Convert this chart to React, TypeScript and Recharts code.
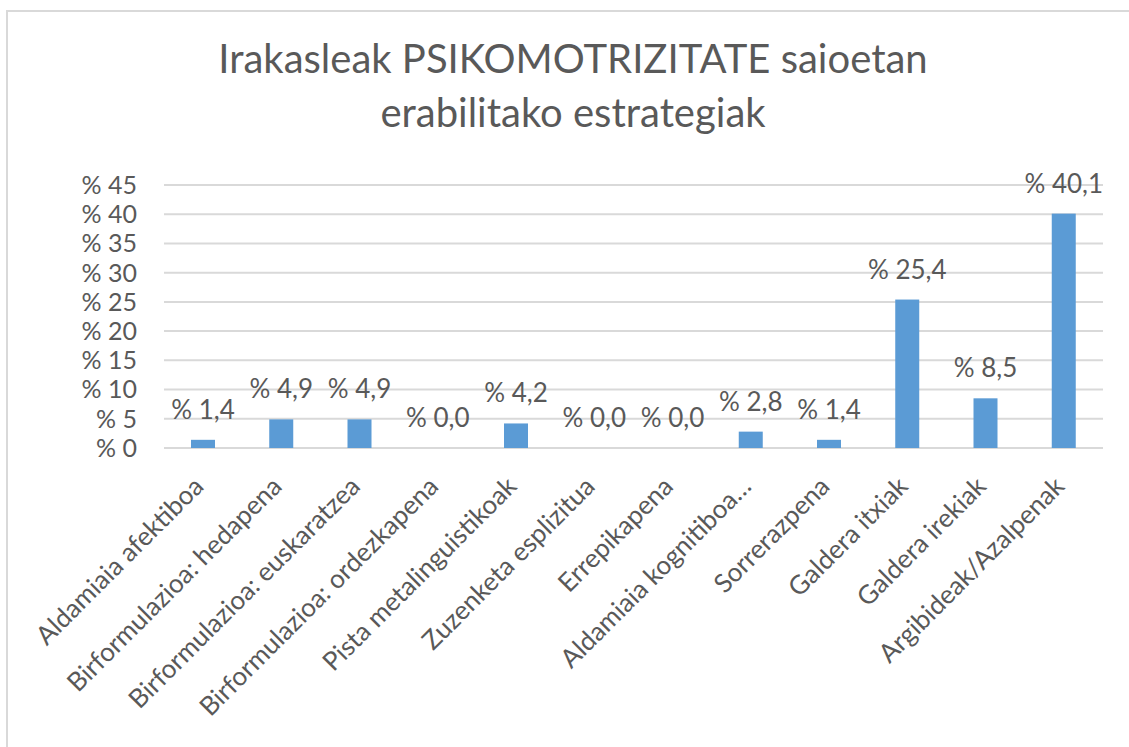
import React from 'react';
import { BarChart, Bar, XAxis, YAxis, CartesianGrid } from 'recharts';

const categories = [
  'Aldamiaia afektiboa',
  'Birformulazioa: hedapena',
  'Birformulazioa: euskaratzea',
  'Birformulazioa: ordezkapena',
  'Pista metalinguistikoak',
  'Zuzenketa esplizitua',
  'Errepikapena',
  'Aldamiaia kognitiboa…',
  'Sorrerazpena',
  'Galdera itxiak',
  'Galdera irekiak',
  'Argibideak/Azalpenak',
];
const percentages = [1.4, 4.9, 4.9, 0.0, 4.2, 0.0, 0.0, 2.8, 1.4, 25.4, 8.5, 40.1];
const yTicks = [0, 5, 10, 15, 20, 25, 30, 35, 40, 45];

const titleLines = ['Irakasleak PSIKOMOTRIZITATE saioetan', 'erabilitako estrategiak'];

const data = categories.map((name, i) => ({ name, value: percentages[i] }));

const FONT = 'Lato, "Open Sans", sans-serif';
const TEXT = '#595959';

const fmt = (v: number) => `% ${v.toFixed(1).replace('.', ',')}`;

const XTick = (props: any) => {
  const { x, payload } = props;
  return (
    <text
      x={0}
      y={0}
      transform={`translate(${x + 2},${488}) rotate(-45)`}
      textAnchor="end"
      fill={TEXT}
      fontSize={26}
      fontFamily={FONT}
    >
      {payload.value}
    </text>
  );
};

const ValueLabel = (props: any) => {
  const { x, y, width, height, value } = props;
  // zero bars get a minimum height of 1px, so measure from the bar bottom
  const top = value > 0 ? y : y + height;
  return (
    <text
      x={x + width / 2}
      y={top - 21}
      textAnchor="middle"
      fill={TEXT}
      fontSize={26}
      fontFamily={FONT}
    >
      {fmt(value)}
    </text>
  );
};

const BarShape = (props: any) => {
  const { x, y, width, height, value } = props;
  if (!(value > 0)) return <g />;
  return <rect x={x} y={y} width={width} height={height} fill="#5B9BD5" />;
};

export default function App() {
  return (
    <div style={{ position: 'absolute', left: 0, top: 0, width: 1129, height: 747, overflow: 'hidden', background: '#fff' }}>
      <div
        style={{
          position: 'absolute',
          left: 6,
          top: 10,
          width: 1200,
          height: 800,
          border: '2px solid #d9d9d9',
        }}
      />
      <div
        style={{
          position: 'absolute',
          left: 0,
          top: 31,
          width: 1146,
          textAlign: 'center',
          fontFamily: FONT,
          fontSize: 40,
          lineHeight: '54px',
          color: TEXT,
        }}
      >
        {titleLines.map((l) => (
          <div key={l}>{l}</div>
        ))}
      </div>
      <div style={{ position: 'absolute', left: 0, top: 0 }}>
        <BarChart width={1129} height={747} data={data} margin={{ top: 185, right: 26, bottom: 0, left: 0 }}>
          <CartesianGrid vertical={false} stroke="#d9d9d9" strokeWidth={2} />
          <XAxis
            dataKey="name"
            axisLine={false}
            tickLine={false}
            interval={0}
            height={299}
            tick={<XTick />}
          />
          <YAxis
            domain={[0, 45]}
            ticks={yTicks}
            interval={0}
            width={164}
            axisLine={false}
            tickLine={false}
            tickMargin={21}
            tickFormatter={(v: number) => `% ${v}`}
            tick={{ fill: TEXT, fontSize: 25, fontFamily: FONT }}
          />
          <Bar
            dataKey="value"
            fill="#5B9BD5"
            barSize={24}
            minPointSize={1}
            shape={<BarShape />}
            isAnimationActive={false}
            label={<ValueLabel />}
          />
        </BarChart>
      </div>
    </div>
  );
}
